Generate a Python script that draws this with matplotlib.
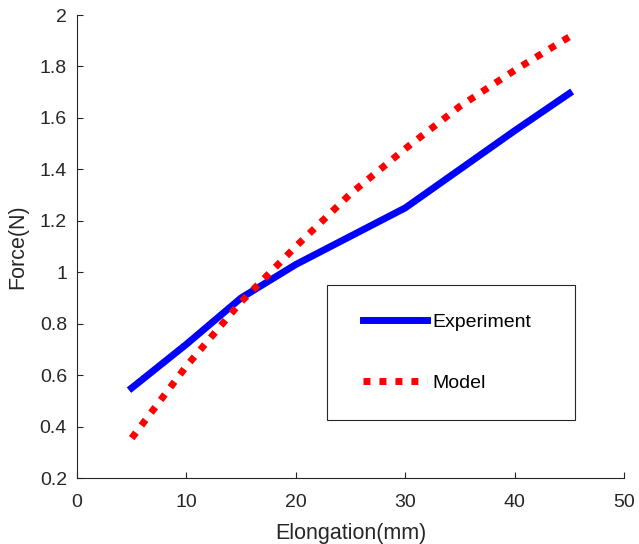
import matplotlib
matplotlib.use("Agg")
import matplotlib.pyplot as plt
from matplotlib.ticker import FormatStrFormatter
from matplotlib.legend_handler import HandlerLine2D

# elongation (mm) and force (N)
elong = [5, 10, 15, 20, 25, 30, 35, 40, 45]
force_exp = [0.55, 0.72, 0.90, 1.03, 1.14, 1.25, 1.40, 1.55, 1.695]
force_model = [0.355, 0.635, 0.885, 1.10, 1.305, 1.48, 1.645, 1.785, 1.915]

plt.rcParams['font.family'] = ['Liberation Sans', 'DejaVu Sans']
txt = '#262626'

fig = plt.figure(figsize=(6.39, 5.44), dpi=100)
ax = fig.add_axes([0.1205, 0.1213, 0.856, 0.8511])

l1, = ax.plot(elong, force_exp, color='#0000ff', linewidth=5, label='Experiment',
              solid_joinstyle='round')
l2, = ax.plot(elong, force_model, color='#ff0000', linewidth=5,
              linestyle=(0, (1, 1.3)), label='Model')

ax.set_xlim(0, 50)
ax.set_ylim(0.2, 2)
ax.set_xticks(range(0, 51, 10))
ax.set_yticks([0.2, 0.4, 0.6, 0.8, 1, 1.2, 1.4, 1.6, 1.8, 2])
ax.xaxis.set_major_formatter(FormatStrFormatter('%g'))
ax.yaxis.set_major_formatter(FormatStrFormatter('%g'))
ax.tick_params(direction='in', length=4, width=0.8, color=txt, labelcolor=txt,
               labelsize=14)
ax.tick_params(axis='x', pad=11.5)
ax.tick_params(axis='y', pad=7.2)
for s in ['top', 'right']:
    ax.spines[s].set_visible(False)
for s in ['left', 'bottom']:
    ax.spines[s].set_color(txt)
    ax.spines[s].set_linewidth(0.8)

ax.set_xlabel('Elongation(mm)', color=txt, fontsize=15.5, labelpad=9)
ax.set_ylabel('Force(N)', color=txt, fontsize=15.5, labelpad=8)

hl = HandlerLine2D(xpad=0.4)
leg = ax.legend(handles=[l1, l2], loc='lower left',
                bbox_to_anchor=(0.457, 0.125, 0.453, 0.292),
                mode='expand', fancybox=False, framealpha=1, edgecolor=txt,
                borderpad=1.45, labelspacing=2.22, handlelength=3.69,
                handletextpad=0.26, borderaxespad=0, fontsize=14,
                handler_map={l1: hl, l2: hl})
leg.get_frame().set_linewidth(0.8)
for t in leg.get_texts():
    t.set_color('black')

fig.savefig('out.png', dpi=100)
